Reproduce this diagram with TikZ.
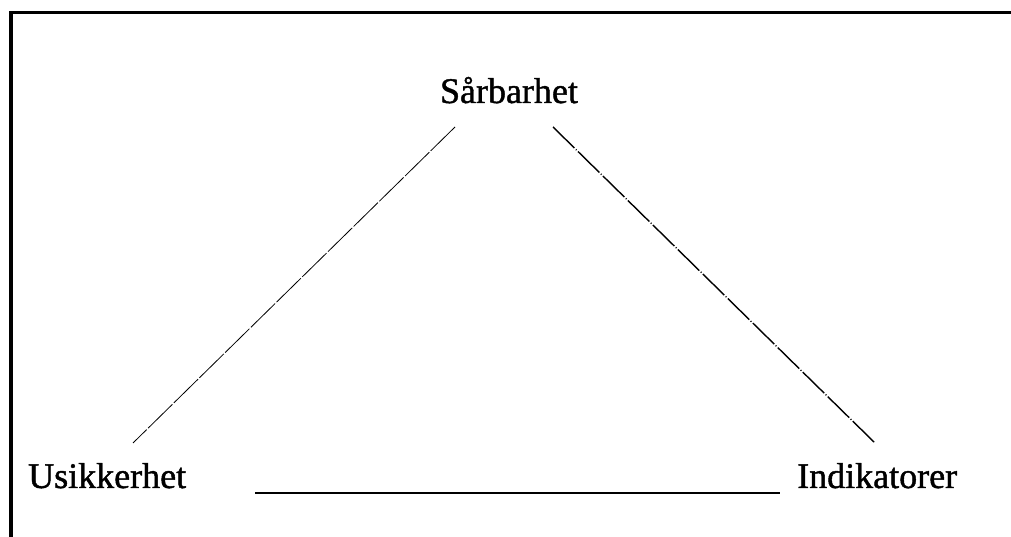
\documentclass[tikz,border=0pt]{standalone}
\usepackage{fontspec}
\setmainfont{Liberation Serif}
\newfontfamily\lblfont{Liberation Serif}[FakeBold=1.2]
\begin{document}
\begin{tikzpicture}[x=1pt,y=1pt,
  lbl/.style={inner sep=0pt,font=\lblfont\fontsize{36}{40}\selectfont},
  thinlink/.style={line width=0.8pt,dash pattern=on 34pt off 2pt},
  thicklink/.style={line width=1.4pt,dash pattern=on 30pt off 2pt on 1pt off 2pt},
  frame/.style={line width=3.5pt}]
\useasboundingbox (0,0) rectangle (1011,537);
\fill[white] (0,0) rectangle (1011,537);
% frame (top and left edges)
\draw[frame] (11,0) -- (11,524.5) -- (1011,524.5);
% labels
\node[lbl,anchor=base] (s) at (509,434) {Sårbarhet};
\node[lbl,anchor=base west] (u) at (28,49) {Usikkerhet};
\node[lbl,anchor=base west] (i) at (797,49) {Indikatorer};
% end points
\coordinate (lt) at (455,410);
\coordinate (lb) at (133,94);
\coordinate (rt) at (553,410);
\coordinate (rb) at (875,94);
\coordinate (bl) at (255,44);
\coordinate (br) at (780,44);
\draw[thinlink] (lt) -- (lb);
\draw[thicklink] (rt) -- (rb);
\draw[line width=2pt] (bl) -- (br);
\end{tikzpicture}
\end{document}
